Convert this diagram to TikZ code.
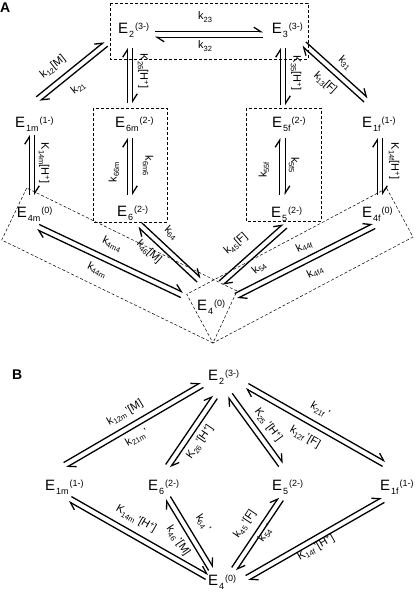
\documentclass[tikz,border=0pt]{standalone}
\usepackage{fontspec}
\setmainfont{Liberation Sans}
\usetikzlibrary{arrows.meta,calc}
\newcommand\lsub[1]{\raisebox{-2.5pt}{\fontsize{7.5}{7.5}\selectfont #1}}
\newcommand\lsup[1]{\raisebox{3.5pt}{\fontsize{7.5}{7.5}\selectfont #1}}
\newcommand\Ename[2]{E\kern1pt\raisebox{-4pt}{\fontsize{9}{9}\selectfont #1}\kern1pt\raisebox{4pt}{\fontsize{9}{9}\selectfont #2}}
\newcommand\eqoff{2.8pt}
\newcommand\eqpair[2]{%
  \draw[hp] ($(#1)!\eqoff!90:(#2)$) -- ($(#2)!\eqoff!-90:(#1)$);
  \draw[hp] ($(#2)!\eqoff!90:(#1)$) -- ($(#1)!\eqoff!-90:(#2)$);}
\begin{document}
\begin{tikzpicture}[x=1pt,y=-1pt,
  state/.style={anchor=base west,inner sep=0pt,font=\fontsize{15}{15}\selectfont},
  lab/.style={inner sep=0pt,font=\fontsize{11}{11}\selectfont},
  panel/.style={anchor=north west,inner sep=0pt,font=\fontsize{14}{14}\selectfont\bfseries},
  hp/.style={line width=1.3pt,-{Straight Barb[left,length=7pt,width=9pt]}},
  grp/.style={draw,densely dashed,line width=0.5pt}]
\useasboundingbox (0,0) rectangle (416,600);
% ---------------- Panel A ----------------
\node[panel] (pa) at (0,3) {A};
\draw[grp] (110,3) rectangle (308,59);
\draw[grp] (93,108) rectangle (167,222);
\draw[grp] (246,108) rectangle (321,221);
\draw[grp] (26.7,188) -- (1.7,240) -- (213,343) -- (237,291) -- cycle;
\draw[grp] (386.7,188.3) -- (413,237) -- (213,343) -- (186.7,294.3) -- cycle;

\node[state] (e2) at (118,33.3) {\Ename{2}{(3-)}};
\node[state] (e3) at (271.7,33.5) {\Ename{3}{(3-)}};
\node[state] (e1m) at (15,127) {\Ename{1m}{(1-)}};
\node[state] (e6m) at (115,127) {\Ename{6m}{(2-)}};
\node[state] (e5f) at (272,127) {\Ename{5f}{(2-)}};
\node[state] (e1f) at (362,127) {\Ename{1f}{(1-)}};
\node[state] (e4m) at (16.7,217) {\Ename{4m}{(0)}};
\node[state] (e6) at (117,216.7) {\Ename{6}{(2-)}};
\node[state] (e5) at (271,217) {\Ename{5}{(2-)}};
\node[state] (e4f) at (362,217) {\Ename{4f}{(0)}};
\node[state] (e4) at (197,310) {\Ename{4}{(0)}};

\coordinate (a1p) at (155,34.5);  \coordinate (a1q) at (263,34.5);
\coordinate (a2p) at (38,99);     \coordinate (a2q) at (106,44);
\coordinate (a3p) at (130,48);    \coordinate (a3q) at (130,103);
\coordinate (a4p) at (283,48);    \coordinate (a4q) at (283,105);
\coordinate (a5p) at (304,44);    \coordinate (a5q) at (366,100);
\coordinate (a6p) at (32,135);    \coordinate (a6q) at (32,195);
\coordinate (a7p) at (130,138);   \coordinate (a7q) at (130,195);
\coordinate (a8p) at (282.5,138); \coordinate (a8q) at (282.5,195);
\coordinate (a9p) at (380,138);   \coordinate (a9q) at (380,195);
\coordinate (a10p) at (38,227);   \coordinate (a10q) at (182,295);
\coordinate (a11p) at (140,225);  \coordinate (a11q) at (199,280);
\coordinate (a12p) at (285,226);  \coordinate (a12q) at (221,283);
\coordinate (a13p) at (374,226);  \coordinate (a13q) at (236,296);
\foreach \i in {1,...,13} {\eqpair{a\i p}{a\i q}}

\node[lab] (l23) at (205,17) {k\lsub{23}};
\node[lab] (l32) at (205,46) {k\lsub{32}};
\node[lab,rotate=38.6] (l12) at (53,67) {k\lsub{12}[M]};
\node[lab,rotate=38.6] (l21) at (78,88) {k\lsub{21}};
\node[lab,rotate=-90] (l26) at (143,71) {K\lsub{26}[H\lsup{+}]};
\node[lab,rotate=-90] (l35) at (296,73) {K\lsub{35}[H\lsup{+}]};
\node[lab,rotate=-42] (l31) at (345,63) {k\lsub{31}};
\node[lab,rotate=-42] (l13) at (325,83) {k\lsub{13}[F]};
\node[lab,rotate=-90] (l14m) at (44,163) {K\lsub{14m}[H\lsup{+}]};
\node[lab,rotate=90] (l66m) at (114,172) {k\lsub{66m}};
\node[lab,rotate=-90] (l6m6) at (148,166) {k\lsub{6m6}};
\node[lab,rotate=90] (l55f) at (264,170) {k\lsub{55f}};
\node[lab,rotate=-90] (l5f5) at (294,165) {k\lsub{5f5}};
\node[lab,rotate=-90] (l14f) at (394,161) {K\lsub{14f}[H\lsup{+}]};
\node[lab,rotate=-25.3] (l4m4) at (112,244) {k\lsub{4m4}};
\node[lab,rotate=-25.3] (l44m) at (97,270) {k\lsub{44m}};
\node[lab,rotate=-42.5] (l64) at (171,233) {k\lsub{64}};
\node[lab,rotate=-42.5] (l46) at (149,252) {k\lsub{46}[M]};
\node[lab,rotate=41] (l45) at (236,244) {k\lsub{45}[F]};
\node[lab,rotate=41] (l54) at (259,268) {k\lsub{54}};
\node[lab,rotate=27] (l44f) at (304,246) {k\lsub{44f}};
\node[lab,rotate=27] (l4f4) at (315,272) {k\lsub{4f4}};

% ---------------- Panel B ----------------
\node[panel] (pb) at (12,370) {B};
\node[state] (b2) at (208,380) {\Ename{2}{(3-)}};
\node[state] (b1m) at (45,490) {\Ename{1m}{(1-)}};
\node[state] (b6) at (148,490) {\Ename{6}{(2-)}};
\node[state] (b5) at (272,490) {\Ename{5}{(2-)}};
\node[state] (b1f) at (380,490) {\Ename{1f}{(1-)}};
\node[state] (b4) at (208,585) {\Ename{4}{(0)}};

\coordinate (b1p) at (65,465);   \coordinate (b1q) at (202,385);
\coordinate (b2p) at (168,466);  \coordinate (b2q) at (215,397);
\coordinate (b3p) at (230,395);  \coordinate (b3q) at (281,465);
\coordinate (b4p) at (247,386);  \coordinate (b4q) at (384,464);
\coordinate (b5p) at (70,499);   \coordinate (b5q) at (207,577);
\coordinate (b6p) at (168,498);  \coordinate (b6q) at (211,569);
\coordinate (b7p) at (234,569);  \coordinate (b7q) at (281,499);
\coordinate (b8p) at (247,578);  \coordinate (b8q) at (383,500);
\foreach \i in {1,...,8} {\eqpair{b\i p}{b\i q}}

\node[lab,rotate=30.3] (m12) at (125,413) {k\lsub{12m}\,'[M]};
\node[lab,rotate=30.3] (m21) at (137,438) {k\lsub{21m}\,'};
\node[lab,rotate=55.7] (m26) at (200,442) {K\lsub{26}\,'[H\lsup{+}]};
\node[lab,rotate=-53] (m25) at (268,425) {K\lsub{25}\,'[H\lsup{+}]};
\node[lab,rotate=-29.7] (m21f) at (320,410) {k\lsub{21f}\,'};
\node[lab,rotate=-29.7] (m12f) at (305,437) {k\lsub{12f}\,'[F]};
\node[lab,rotate=-29.7] (m14m) at (136,519) {K\lsub{14m}\,'[H\lsup{+}]};
\node[lab,rotate=-56] (m46) at (178,541) {k\lsub{46}\,'[M]};
\node[lab,rotate=-56] (m64) at (203,523) {k\lsub{64}\,'};
\node[lab,rotate=56] (m45) at (245,524) {k\lsub{45}\,'[F]};
\node[lab,rotate=56] (m54) at (266,533) {k\lsub{54}\,'};
\node[lab,rotate=29.8] (m14f) at (316,548) {K\lsub{14f}\,'[H\lsup{+}]};
\end{tikzpicture}
\end{document}
